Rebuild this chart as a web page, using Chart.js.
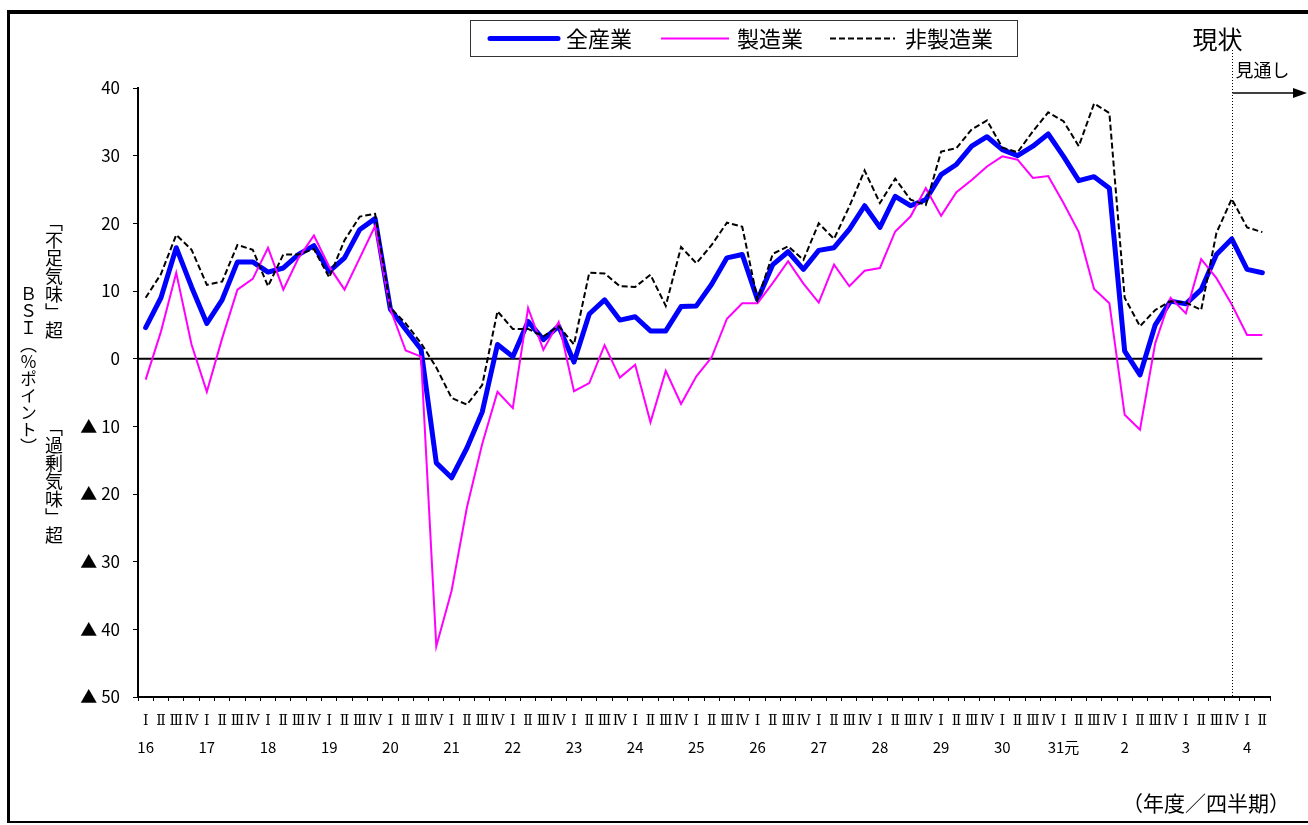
<!DOCTYPE html>
<html lang="ja">
<head>
<meta charset="utf-8">
<script src="https://cdn.jsdelivr.net/npm/chart.js@4.4.1/dist/chart.umd.min.js"></script>
<style>
  html, body { margin: 0; padding: 0; background: #fff; }
  body { width: 1308px; height: 825px; position: relative; overflow: hidden; font-family: "Noto Sans CJK JP", sans-serif; }
  #frame { position: absolute; left: 7px; top: 10px; width: 1400px; height: 807px;
           border-left: 3px solid #000; border-top: 4px solid #000; border-bottom: 2px solid #000; }
  #chart { position: absolute; left: 0; top: 0; }
  .vt { position: absolute; writing-mode: vertical-rl; font-size: 18px; line-height: 1; color: #000; }
  #unit { position: absolute; left: 1122px; top: 787px; font-size: 21px; color: #000; }
</style>
</head>
<body>
<div id="frame"></div>
<canvas id="chart" width="1308" height="825"></canvas>
<div class="vt" style="left:45px; top:213px;">「不足気味」超</div>
<div class="vt" style="left:20px; top:285px; font-size:17px;">ＢＳＩ（％ポイント）</div>
<div class="vt" style="left:45px; top:418px;">「過剰気味」超</div>
<div id="unit">（年度／四半期）</div>
<script>
// fiscal years (Heisei 16 .. Reiwa 4), quarters
const years = ['16', '17', '18', '19', '20', '21', '22', '23', '24', '25', '26', '27', '28', '29', '30', '31元', '2', '3', '4'];
const quarters = ['Ⅰ', 'Ⅱ', 'Ⅲ', 'Ⅳ'];
const lastYearQuarters = 2;   // only I, II for the final year
const currentIndex = 71;      // "現状" = 3 IV

const allIndustry = [
    4.6, 9.0, 16.4, 10.6, 5.2, 8.7, 14.3, 14.3, 12.8, 13.4, 15.4, 16.7,
    12.9, 14.9, 19.1, 20.7, 7.3, 4.3, 1.4, -15.4, -17.6, -13.2, -7.9, 2.1,
    0.3, 5.5, 2.8, 4.8, -0.5, 6.6, 8.7, 5.7, 6.2, 4.1, 4.1, 7.7,
    7.8, 11.0, 14.9, 15.4, 8.7, 13.9, 15.8, 13.2, 16.0, 16.4, 19.1, 22.6,
    19.4, 24.0, 22.6, 23.5, 27.2, 28.7, 31.4, 32.8, 30.9, 30.0, 31.4, 33.2,
    29.9, 26.3, 26.9, 25.2, 1.1, -2.4, 5.0, 8.5, 8.1, 10.2, 15.4, 17.7,
    13.2, 12.7
];
const manufacturing = [
    -3.1, 4.0, 12.7, 2.1, -4.9, 3.0, 10.2, 11.8, 16.4, 10.2, 14.9, 18.2,
    13.6, 10.2, 14.9, 19.6, 7.3, 1.2, 0.3, -42.5, -34.3, -22.0, -12.6, -4.9,
    -7.3, 7.5, 1.3, 5.4, -4.8, -3.6, 2.0, -2.8, -0.9, -9.4, -1.8, -6.7,
    -2.6, 0.2, 5.9, 8.2, 8.2, 11.2, 14.4, 11.1, 8.3, 13.9, 10.7, 13.0,
    13.4, 18.8, 21.0, 25.2, 21.1, 24.6, 26.4, 28.4, 29.9, 29.4, 26.7, 27.0,
    23.0, 18.7, 10.3, 8.2, -8.3, -10.5, 2.3, 9.0, 6.7, 14.7, 11.9, 8.0,
    3.5, 3.5
];
const nonManufacturing = [
    9.0, 12.5, 18.3, 16.1, 10.9, 11.4, 16.8, 16.1, 10.7, 15.4, 15.4, 16.2,
    12.0, 17.5, 21.0, 21.4, 7.5, 5.2, 2.3, -1.3, -5.8, -6.8, -3.9, 7.0,
    4.4, 4.4, 3.3, 4.8, 2.1, 12.7, 12.6, 10.7, 10.6, 12.4, 7.8, 16.5,
    14.1, 16.8, 20.1, 19.5, 8.7, 15.5, 16.6, 14.6, 20.0, 17.7, 22.5, 27.8,
    23.0, 26.6, 23.5, 22.7, 30.6, 31.1, 33.9, 35.2, 31.2, 30.5, 33.6, 36.4,
    35.1, 31.4, 37.7, 36.3, 9.0, 4.8, 7.2, 8.5, 8.3, 7.2, 18.6, 23.6,
    19.4, 18.7
];

// quarter row + year row (year shown under quarter I)
const quarterLabels = [];
const yearLabels = [];
years.forEach((yr, yi) => {
    const n = yi === years.length - 1 ? lastYearQuarters : 4;
    for (let q = 0; q < n; q++) {
        quarterLabels.push(quarters[q]);
        yearLabels.push(q === 0 ? yr : '');
    }
});

const jpFont = '"Noto Sans CJK JP", sans-serif';

const overlay = {
    id: 'overlay',
    beforeDatasetsDraw(chart) {
        const { ctx, chartArea, scales: { x, y } } = chart;
        const y0 = y.getPixelForValue(0);
        ctx.save();
        ctx.strokeStyle = '#000';
        ctx.lineWidth = 2;
        ctx.beginPath();
        ctx.moveTo(chartArea.left, y0);
        ctx.lineTo(x.getPixelForValue(quarterLabels.length - 1), y0);
        ctx.stroke();
        ctx.restore();
    },
    afterDraw(chart) {
        const { ctx, chartArea, scales: { x } } = chart;
        const xc = Math.round(x.getPixelForValue(currentIndex)) + 0.5;
        ctx.save();

        // dotted "current" line
        ctx.strokeStyle = '#000';
        ctx.lineWidth = 1;
        ctx.setLineDash([1, 2]);
        ctx.beginPath();
        ctx.moveTo(xc, 50);
        ctx.lineTo(xc, chartArea.bottom);
        ctx.stroke();
        ctx.setLineDash([]);

        ctx.fillStyle = '#000';
        ctx.font = '25px ' + jpFont;
        ctx.textAlign = 'center';
        ctx.textBaseline = 'alphabetic';
        ctx.fillText('現状', xc - 15, 49);

        ctx.font = '18px ' + jpFont;
        ctx.textAlign = 'left';
        ctx.textBaseline = 'middle';
        ctx.fillText('見通し', xc + 3, 70);

        // arrow
        ctx.lineWidth = 1.5;
        ctx.beginPath();
        ctx.moveTo(xc, 93);
        ctx.lineTo(1296, 93);
        ctx.stroke();
        ctx.beginPath();
        ctx.moveTo(1307, 93);
        ctx.lineTo(1293, 88);
        ctx.lineTo(1293, 98);
        ctx.closePath();
        ctx.fill();

        // legend box
        ctx.lineWidth = 1;
        ctx.strokeStyle = '#333';
        ctx.strokeRect(470.5, 20.5, 547, 36);
        const slots = [[490, 558, 566], [661, 729, 737], [830, 895, 905]];
        ctx.font = '22px ' + jpFont;
        ctx.textBaseline = 'middle';
        chart.data.datasets.forEach((ds, i) => {
            const [a, b, t] = slots[i];
            ctx.strokeStyle = ds.borderColor;
            ctx.lineWidth = ds.borderWidth;
            ctx.lineCap = ds.borderWidth > 3 ? 'round' : 'butt';
            ctx.setLineDash(ds.borderDash || []);
            ctx.beginPath();
            ctx.moveTo(a, 38.5);
            ctx.lineTo(b, 38.5);
            ctx.stroke();
            ctx.setLineDash([]);
            ctx.fillStyle = '#000';
            ctx.fillText(ds.label, t, 39);
        });
        ctx.restore();
    }
};

new Chart(document.getElementById('chart'), {
    type: 'line',
    data: {
        labels: quarterLabels,
        datasets: [
            {
                label: '全産業',
                data: allIndustry,
                borderColor: '#0000ff',
                borderWidth: 5,
                borderJoinStyle: 'round',
                borderCapStyle: 'round',
                pointRadius: 0,
                tension: 0,
                order: 3
            },
            {
                label: '製造業',
                data: manufacturing,
                borderColor: '#ff00ff',
                borderWidth: 2,
                pointRadius: 0,
                tension: 0,
                order: 2
            },
            {
                label: '非製造業',
                data: nonManufacturing,
                borderColor: '#000000',
                borderWidth: 2,
                borderDash: [6, 3],
                pointRadius: 0,
                tension: 0,
                order: 1
            }
        ]
    },
    options: {
        responsive: false,
        animation: false,
        devicePixelRatio: 1,
        layout: { padding: { left: 10, top: 88, right: 38, bottom: 62 } },
        plugins: {
            legend: { display: false },
            tooltip: { enabled: false }
        },
        scales: {
            x: {
                offset: true,
                grid: { offset: true, drawOnChartArea: false, tickLength: 4, color: '#000' },
                border: { color: '#000', width: 2 },
                ticks: {
                    autoSkip: false,
                    maxRotation: 0,
                    minRotation: 0,
                    padding: 12,
                    color: '#000',
                    font: { family: '"DejaVu Serif", serif', size: 14 }
                },
                afterFit: s => { s.height = 30; }
            },
            xYear: {
                type: 'category',
                labels: yearLabels,
                position: 'bottom',
                offset: true,
                grid: { display: false },
                border: { display: false },
                ticks: {
                    autoSkip: false,
                    maxRotation: 0,
                    minRotation: 0,
                    padding: 3,
                    color: '#000',
                    font: { family: jpFont, size: 15 }
                },
                afterFit: s => { s.height = 36; }
            },
            y: {
                min: -50,
                max: 40,
                ticks: {
                    stepSize: 10,
                    padding: 13,
                    color: '#000',
                    font: { family: jpFont, size: 17 },
                    callback: v => v < 0 ? '▲ ' + (-v) : String(v)
                },
                grid: { drawOnChartArea: false, tickLength: 5, color: '#000' },
                border: { color: '#000', width: 2 },
                afterFit: s => { s.width = 128; }
            }
        }
    },
    plugins: [overlay]
});
</script>
</body>
</html>
